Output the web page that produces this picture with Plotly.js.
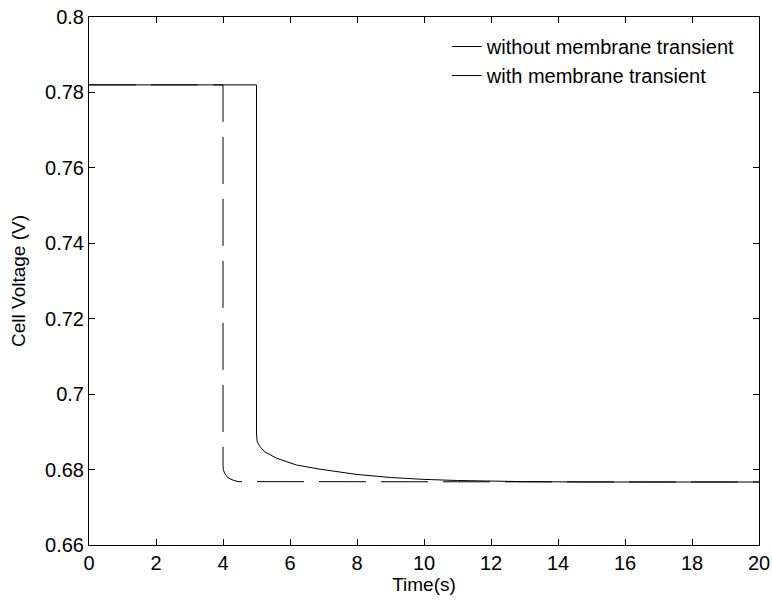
<!DOCTYPE html>
<html>
<head>
<meta charset="utf-8">
<script src="https://cdn.plot.ly/plotly-3.0.1.min.js"></script>
<style>html,body{margin:0;padding:0;background:#fff;}#chart{width:772px;height:600px;}</style>
</head>
<body>
<div id="chart"></div>
<script>
// Series: without membrane transient (dashed)
const timeWithout = [0, 4, 4, 4.01, 4.05, 4.15, 4.3, 4.45, 20];
const voltWithout = [0.782, 0.782, 0.6812, 0.6800, 0.6790, 0.6778, 0.6772, 0.6768, 0.6767];
// Series: with membrane transient (solid)
const timeWith = [0, 5, 5, 5.02, 5.1, 5.25, 5.6, 6.2, 6.9, 7.6, 8, 9, 10, 11, 12, 13, 15, 20];
const voltWith = [0.782, 0.782, 0.6897, 0.6874, 0.6861, 0.6847, 0.6830, 0.6812, 0.6801, 0.6792, 0.6787, 0.6779, 0.6774, 0.6771, 0.6769, 0.6768, 0.6767, 0.6767];
// Tick labels
const xTickVals = [0, 2, 4, 6, 8, 10, 12, 14, 16, 18, 20];
const xTickText = ['0', '2', '4', '6', '8', '10', '12', '14', '16', '18', '20'];
const yTickVals = [0.66, 0.68, 0.70, 0.72, 0.74, 0.76, 0.78, 0.80];
const yTickText = ['0.66', '0.68', '0.7', '0.72', '0.74', '0.76', '0.78', '0.8'];
const seriesNames = ['without membrane transient', 'with membrane transient'];

const font = {family: 'Liberation Sans, Arial, sans-serif', size: 20, color: '#000'};
const titleFont = {family: 'Liberation Sans, Arial, sans-serif', size: 19, color: '#000'};

const traces = [
  {x: timeWithout, y: voltWithout, name: seriesNames[0], mode: 'lines',
   line: {color: '#000', width: 1, dash: '47px,15px'}},
  {x: timeWith, y: voltWith, name: seriesNames[1], mode: 'lines',
   line: {color: '#000', width: 1}}
];

const axisCommon = {
  showgrid: false, zeroline: false, showline: true, linecolor: '#000', linewidth: 1,
  mirror: 'ticks', ticks: 'inside', ticklen: 6, tickwidth: 1, tickcolor: '#000',
  tickfont: font
};

const layout = {
  width: 772, height: 600,
  margin: {l: 89, r: 13, t: 17, b: 55},
  paper_bgcolor: '#fff', plot_bgcolor: '#fff',
  font: font,
  showlegend: true,
  legend: {x: 0.534, y: 0.981, xanchor: 'left', yanchor: 'top', bgcolor: 'rgba(255,255,255,0)',
           borderwidth: 0, font: font, tracegroupgap: 0},
  xaxis: Object.assign({}, axisCommon, {
    range: [0, 20], tickmode: 'array', tickvals: xTickVals, ticktext: xTickText,
    title: {text: 'Time(s)', font: titleFont, standoff: 0}
  }),
  yaxis: Object.assign({}, axisCommon, {
    range: [0.66, 0.8], tickmode: 'array', tickvals: yTickVals, ticktext: yTickText,
    title: {text: 'Cell Voltage (V)', font: titleFont, standoff: 14}
  })
};

Plotly.newPlot('chart', traces, layout, {displayModeBar: false, staticPlot: true});
</script>
</body>
</html>
